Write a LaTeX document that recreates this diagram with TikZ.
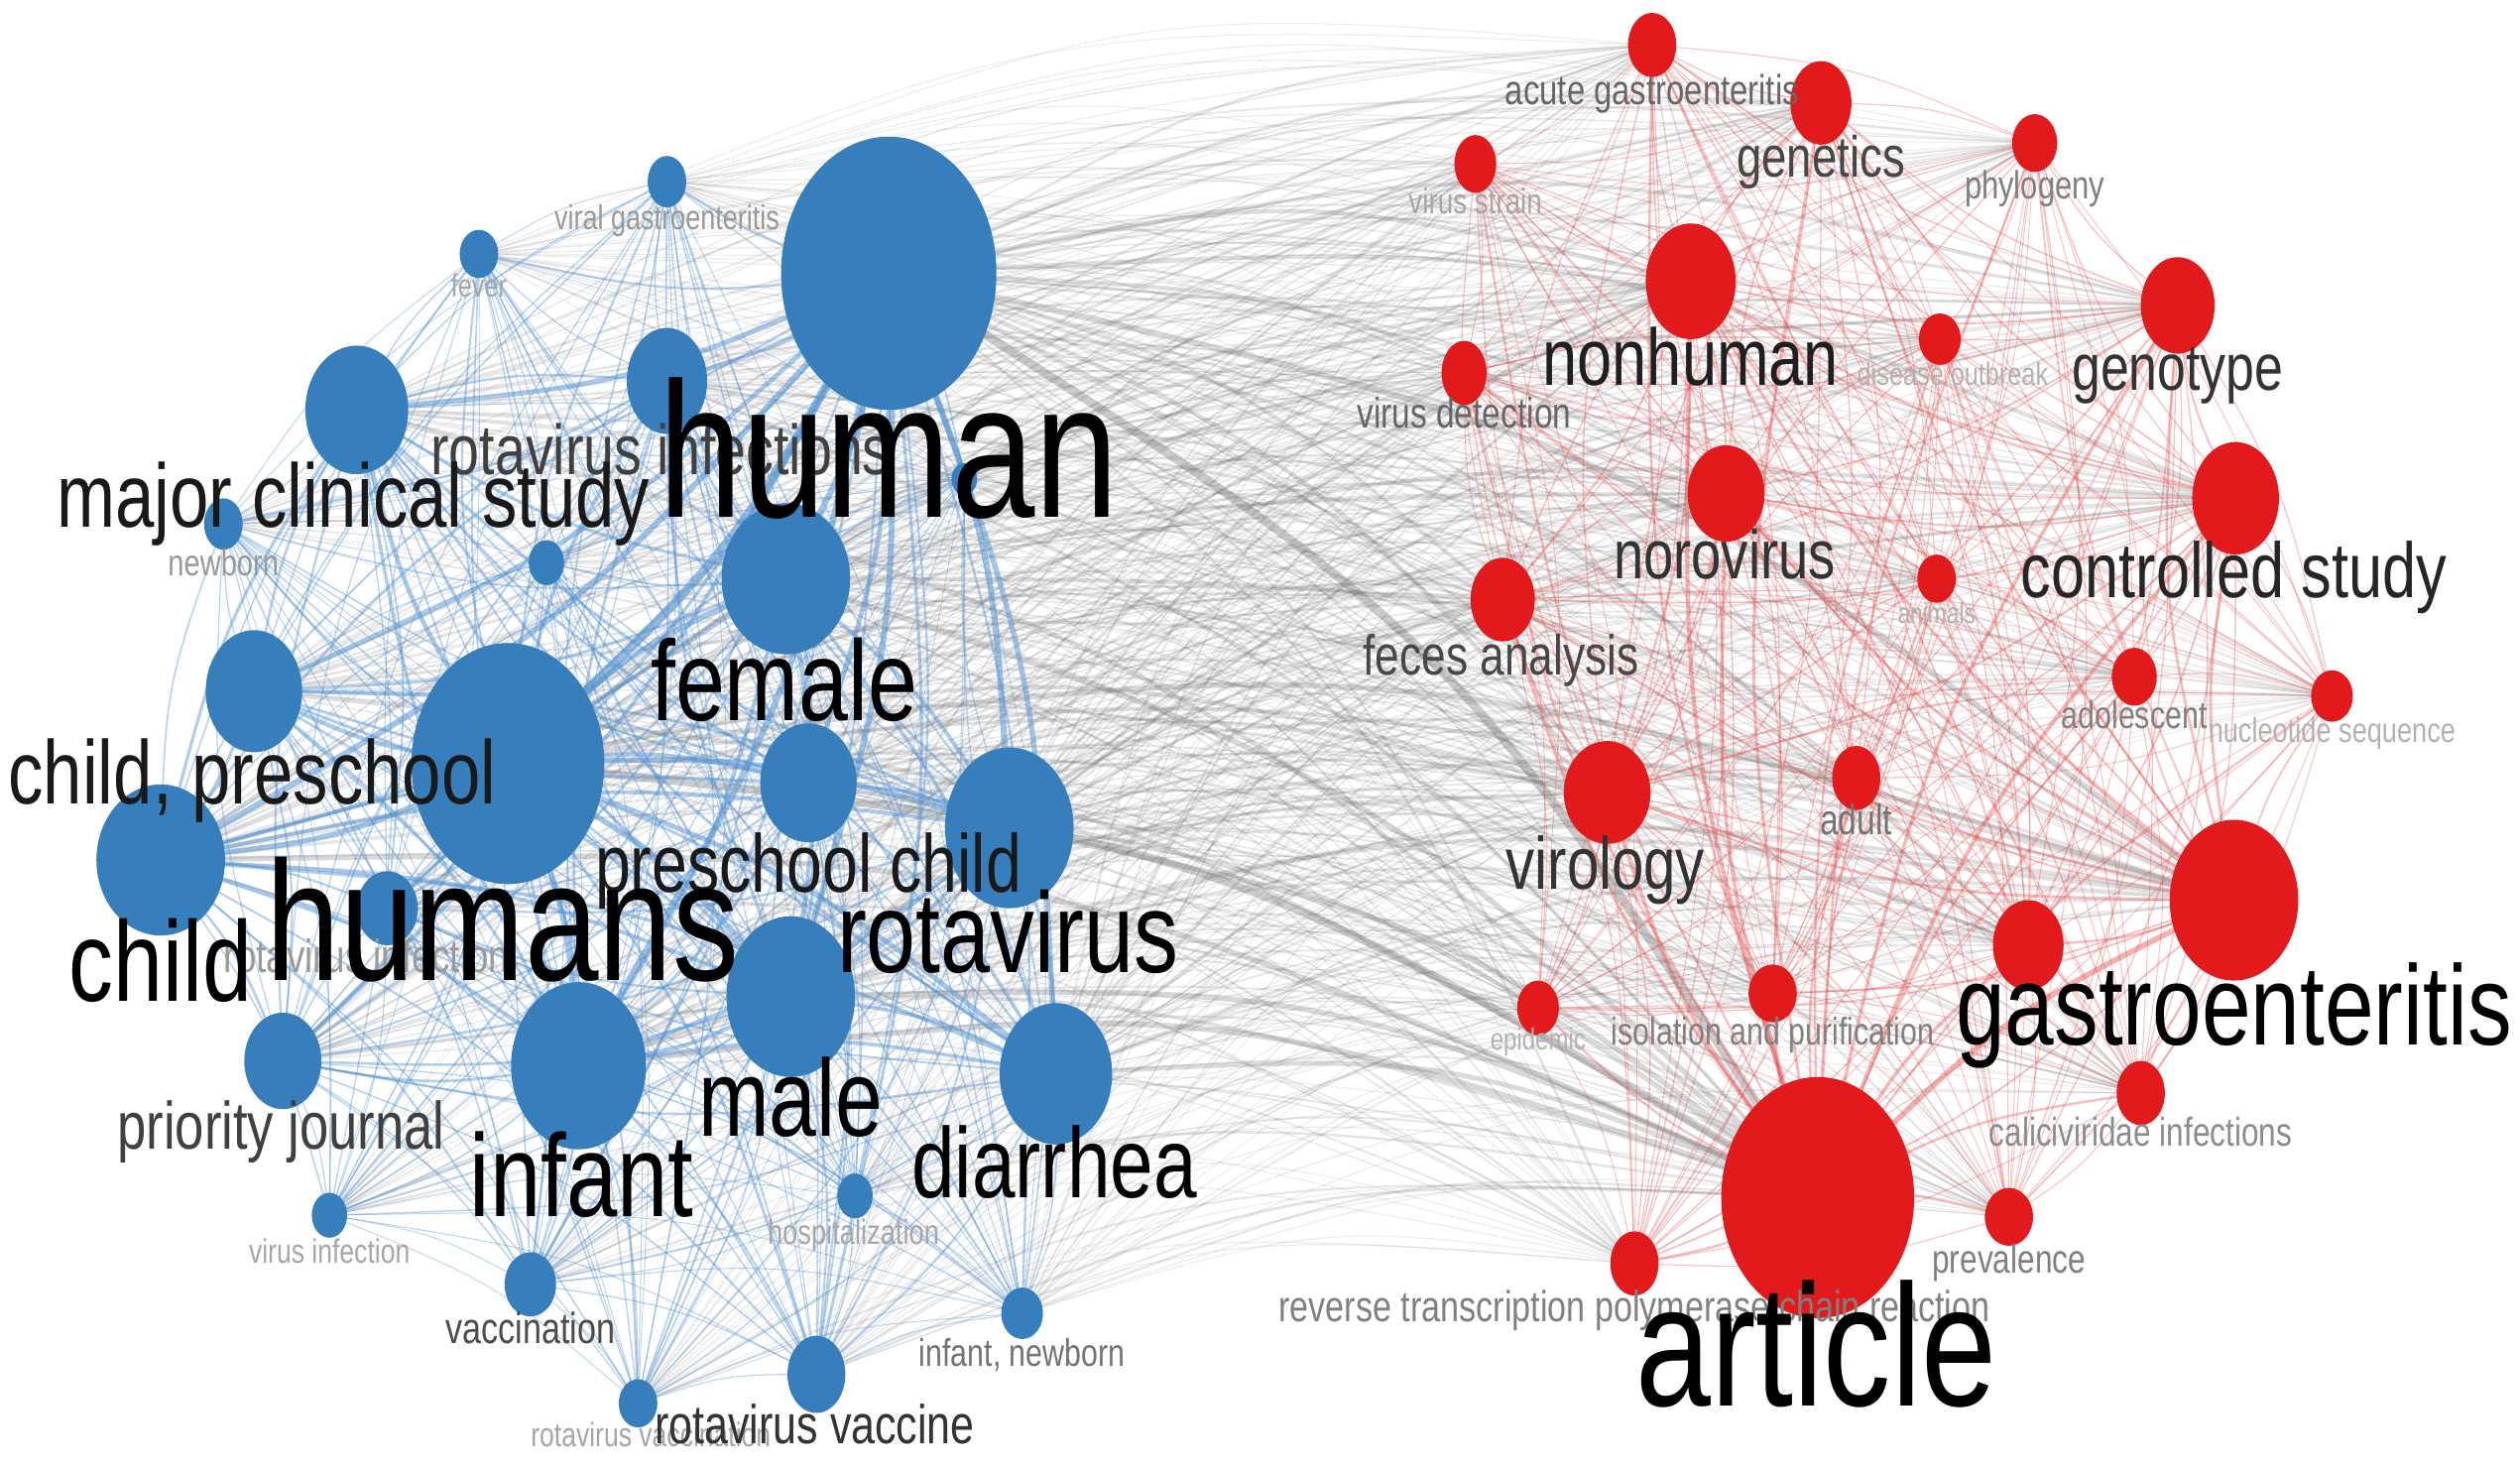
\documentclass[tikz,border=0pt]{standalone}
\usepackage{fontspec}
\usepackage{graphicx}
\setmainfont{Liberation Sans}
\usetikzlibrary{shapes.geometric}
\pgfdeclarelayer{bg}
\pgfsetlayers{bg,main}
\definecolor{vblue}{RGB}{55,126,189}
\definecolor{vred}{RGB}{227,26,28}
\definecolor{eblue}{RGB}{80,145,210}
\definecolor{ered}{RGB}{232,70,70}
\definecolor{egray}{RGB}{105,105,105}
\tikzset{
  bnode/.style={ellipse, fill=vblue, inner sep=0pt},
  rnode/.style={ellipse, fill=vred, inner sep=0pt},
  lbl/.style={anchor=base, inner sep=0pt},
  bedge/.style={draw=eblue},
  redge/.style={draw=ered},
  gedge/.style={draw=egray},
}
\newcommand{\klab}[6]{\node[lbl,text=#5] (#1) at (#2,#3) {\fontsize{#4}{#4}\selectfont\scalebox{0.78}[1]{#6}};}
% one curved link from node #2 to node #3, style #1, bend factor #4, width divisor #5, base opacity #6
\newcommand{\klink}[6]{%
  \edef\xa{\csname X#2\endcsname}\edef\ya{\csname Y#2\endcsname}%
  \edef\xb{\csname X#3\endcsname}\edef\yb{\csname Y#3\endcsname}%
  \edef\ra{\csname R#2\endcsname}\edef\rb{\csname R#3\endcsname}%
  \pgfmathsetmacro\cx{(\xa+\xb)/2+#4*(\yb-\ya)}%
  \pgfmathsetmacro\cy{(\ya+\yb)/2-#4*(\xb-\xa)}%
  \pgfmathsetmacro\w{0.4+\ra*\rb/#5}%
  \pgfmathsetmacro\op{#6+(\ra/100)*(\rb/180)}%
  \draw[#1, line width=\w pt, draw opacity=\op] (#2.center) .. controls (\cx,\cy) .. (#3.center);}
\begin{document}
\begin{tikzpicture}[x=1pt,y=-1pt]
\useasboundingbox (0,0) rectangle (1568,914);
% blue cluster nodes
\foreach \n/\x/\y/\a/\b in {
 b1/553/170/67/85, b2/316/475/60/75, b3/489/360/40/47, b4/158/430/30/38,
 b5/100/535/40/47, b6/503/487/30/37, b7/628/515/40/50, b8/492/620/40/50,
 b9/360/663/42/52, b10/657/668/35/44, b11/176/660/24/30, b12/222/255/32/40,
 b13/415/237/25/33, b14/241/565/19/23, b15/139/326/12/16, b16/298/158/12/15,
 b17/415/113/12/16, b18/340/350/11/14, b19/600/298/8/10, b20/205/756/11/14,
 b21/532/744/11/14, b22/330/799/16/20, b23/397/873/12/15, b24/508/855/18/24,
 b25/636/817/13/16}{
  \node[bnode, minimum width={2*\a*1pt}, minimum height={2*\b*1pt}] (\n) at (\x,\y) {};
  \expandafter\xdef\csname R\n\endcsname{\a}
  \expandafter\xdef\csname X\n\endcsname{\x}
  \expandafter\xdef\csname Y\n\endcsname{\y}
}
% red cluster nodes
\foreach \n/\x/\y/\a/\b in {
 r1/1131/745/60/75, r2/1390/560/40/50, r3/1391/310/27/35, r4/1355/190/23/30,
 r5/1052/175/28/36, r6/1074/307/24/30, r7/1000/493/27/32, r8/935/373/20/26,
 r9/1133/64/19/26, r10/1028/28/15/20, r11/1266/89/14/18, r12/918/102/13/18,
 r13/911/232/14/20, r14/1207/211/13/16, r15/1205/360/12/15, r16/1328/421/14/18,
 r17/1451/433/13/16, r18/1155/484/15/20, r19/1262/588/22/28, r20/1103/618/15/18,
 r21/957/627/13/17, r22/1332/680/15/20, r23/1250/757/15/18, r24/1017/786/15/20}{
  \node[rnode, minimum width={2*\a*1pt}, minimum height={2*\b*1pt}] (\n) at (\x,\y) {};
  \expandafter\xdef\csname R\n\endcsname{\a}
  \expandafter\xdef\csname X\n\endcsname{\x}
  \expandafter\xdef\csname Y\n\endcsname{\y}
}
\begin{pgfonlayer}{bg}
\fill[white] (0,0) rectangle (1568,914);
% links between the clusters
\foreach \i in {1,...,25}{
  \foreach \j in {1,...,24}{
    \klink{gedge}{b\i}{r\j}{0.11}{800}{0.12}
  }
}
% links inside the blue cluster
\foreach \i in {1,...,24}{
  \pgfmathtruncatemacro\k{\i+1}
  \foreach \j in {\k,...,25}{
    \klink{bedge}{b\i}{b\j}{0.08}{800}{0.38}
  }
}
% links inside the red cluster
\foreach \i in {1,...,23}{
  \pgfmathtruncatemacro\k{\i+1}
  \foreach \j in {\k,...,24}{
    \klink{redge}{r\i}{r\j}{0.08}{800}{0.3}
  }
}
\end{pgfonlayer}
% blue labels, small first
\klab{lfev}{298}{185}{20}{black!35}{fever}
\klab{lvi}{205}{786}{21}{black!35}{virus infection}
\klab{lrvn}{405}{900}{21}{black!35}{rotavirus vaccination}
\klab{lvg}{415}{143}{21.4}{black!40}{viral gastroenteritis}
\klab{lhos}{531}{774}{21.6}{black!35}{hospitalization}
\klab{lnb}{139}{358}{23}{black!40}{newborn}
\klab{lin}{636}{850}{24}{black!55}{infant, newborn}
\klab{lvac}{330}{836}{27}{black!70}{vaccination}
\klab{lrin}{228}{605}{29}{black!40}{rotavirus infection}
\klab{lrv}{507}{898}{34}{black!80}{rotavirus vaccine}
\klab{lpj}{175}{715}{41.6}{black!75}{priority journal}
\klab{lri}{411}{295}{44}{black!75}{rotavirus infections}
\klab{lpc}{503}{555}{51}{black!90}{preschool child}
\klab{lcp}{157}{500}{56}{black!90}{child, preschool}
\klab{lmcs}{220}{328}{56}{black!90}{major clinical study}
\klab{ldiar}{656}{745}{62}{black}{diarrhea}
\klab{lmale}{492}{707}{68}{black}{male}
\klab{lrota}{627}{605}{71}{black}{rotavirus}
\klab{lchild}{100}{623}{71}{black}{child}
\klab{lfemale}{488}{448}{71}{black}{female}
\klab{linfant}{362}{757}{73}{black}{infant}
\klab{lhumans}{313}{610}{106}{black}{humans}
\klab{lhuman}{553}{322}{120}{black}{human}
% red labels, small first
\klab{lani}{1205}{388}{18}{black!30}{animals}
\klab{lepi}{957}{653}{19}{black!30}{epidemic}
\klab{lout}{1215}{240}{20}{black!30}{disease outbreak}
\klab{lnuc}{1451}{462}{21.5}{black!30}{nucleotide sequence}
\klab{lstrain}{918}{133}{22}{black!35}{virus strain}
\klab{ladol}{1328}{453}{24}{black!50}{adolescent}
\klab{liso}{1103}{650}{24}{black!50}{isolation and purification}
\klab{lphy}{1266}{124}{24.5}{black!50}{phylogeny}
\klab{lcal}{1332}{713}{25}{black!45}{caliciviridae infections}
\klab{lprev}{1250}{792}{25}{black!50}{prevalence}
\klab{lacute}{1028}{65}{26}{black!60}{acute gastroenteritis}
\klab{ldet}{911}{266}{26.5}{black!60}{virus detection}
\klab{ladult}{1155}{519}{26.6}{black!55}{adult}
\klab{lrt}{1017}{822}{27}{black!50}{reverse transcription polymerase chain reaction}
\klab{lfa}{934}{420}{35}{black!72}{feces analysis}
\klab{lgen}{1133}{110}{36}{black!72}{genetics}
\klab{lgeno}{1355}{243}{41}{black!80}{genotype}
\klab{lnoro}{1073}{360}{43}{black!80}{norovirus}
\klab{lviro}{999}{553}{46}{black!80}{virology}
\klab{lcs}{1390}{372}{48.5}{black!85}{controlled study}
\klab{lnon}{1052}{240}{50}{black!88}{nonhuman}
\klab{lgastro}{1390}{650}{70.6}{black}{gastroenteritis}
\klab{larticle}{1130}{875}{108}{black}{article}
\end{tikzpicture}
\end{document}
